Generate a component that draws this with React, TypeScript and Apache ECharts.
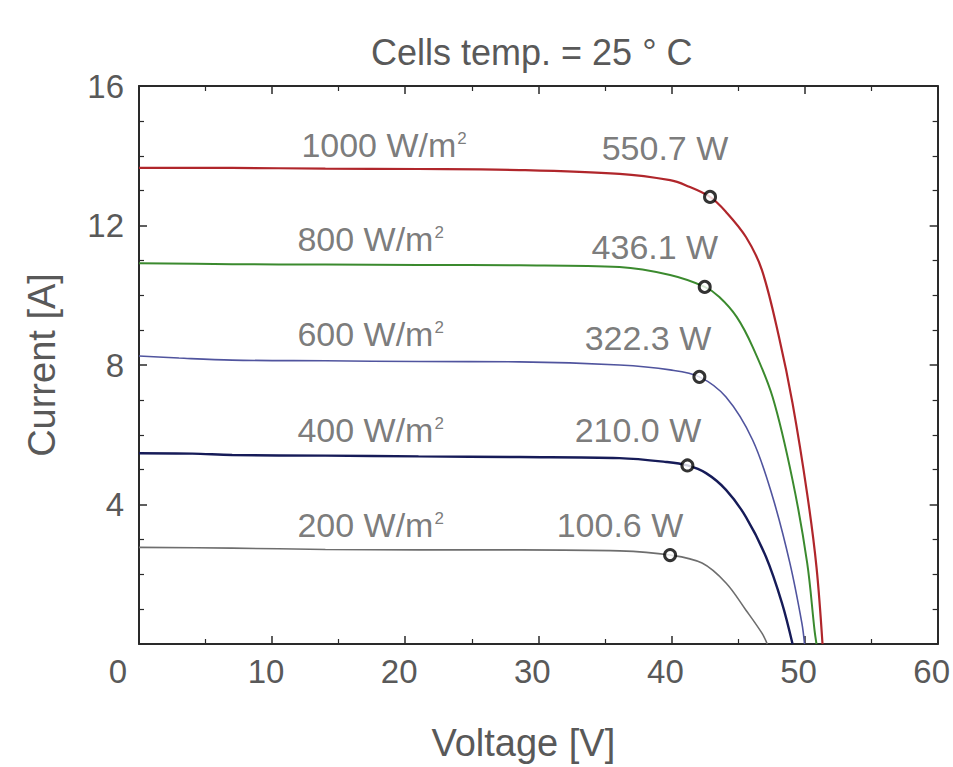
import { useEffect, useRef } from 'react';
import * as echarts from 'echarts';

// ---- data ----
const irradianceValues = ['1000', '800', '600', '400', '200'];
const lineColors = ['#b0262b', '#3b8a2e', '#50549e', '#161b58', '#6e6e6e'];
const lineWidths = [2.2, 2, 1.6, 2.4, 1.6];

const v1000 = [0, 7, 14, 21, 28.6, 36.1, 39.9, 41.1, 42.9, 44.1, 45.6, 46.8, 48.1, 49.1, 50.2, 50.9, 51.35];
const i1000 = [13.65, 13.65, 13.63, 13.62, 13.59, 13.48, 13.3, 13.15, 12.82, 12.39, 11.67, 10.72, 8.77, 6.9, 4.3, 2.2, 0];

const v800 = [0, 7, 14, 21, 28.6, 36.1, 39.9, 42.5, 43.6, 44.9, 46.1, 47.6, 49.1, 50.2, 50.75, 50.9];
const i800 = [10.92, 10.89, 10.88, 10.87, 10.86, 10.81, 10.58, 10.24, 9.95, 9.38, 8.52, 7.08, 4.7, 2.32, 0.4, 0];

const v600 = [0, 3, 7, 14, 21, 28.6, 36.1, 39.9, 42.1, 44.1, 46.1, 47.6, 48.9, 49.8, 50.0];
const i600 = [8.26, 8.2, 8.14, 8.12, 8.1, 8.09, 8.0, 7.86, 7.66, 7.08, 5.85, 4.22, 2.32, 0.6, 0];

const v400 = [0, 4, 7, 14, 21, 28.6, 36.1, 39.6, 41.2, 42.6, 44.1, 45.6, 47.1, 48.3, 49.1];
const i400 = [5.47, 5.46, 5.42, 5.4, 5.38, 5.36, 5.33, 5.22, 5.12, 4.9, 4.42, 3.64, 2.5, 1.18, 0];

const v200 = [0, 7, 14, 21, 28.6, 36.1, 39.9, 42.3, 44.1, 45.6, 46.8, 47.2];
const i200 = [2.77, 2.75, 2.71, 2.7, 2.7, 2.67, 2.55, 2.32, 1.75, 0.97, 0.31, 0];

const curveVoltages = [v1000, v800, v600, v400, v200];
const curveCurrents = [i1000, i800, i600, i400, i200];

const mppVoltage = [42.9, 42.5, 42.1, 41.2, 39.9];
const mppCurrent = [12.82, 10.24, 7.66, 5.12, 2.55];
const mppPowerLabels = ['550.7 W', '436.1 W', '322.3 W', '210.0 W', '100.6 W'];

const irrLabelV = [12.2, 11.9, 11.9, 11.9, 11.9];
const irrLabelI = [14.3, 11.62, 8.9, 6.14, 3.41];
const powLabelV = [34.76, 34.0, 33.48, 32.73, 31.38];
const powLabelI = [14.22, 11.38, 8.77, 6.14, 3.41];

const titleText = 'Cells temp. = 25 ° C';
const xName = 'Voltage [V]';
const yName = 'Current [A]';

const FONT = "'Liberation Sans', Arial, sans-serif";
const TEXT = '#595959';
const AXIS = '#2a2a2a';

export default function App() {
  const ref = useRef<HTMLDivElement>(null);

  useEffect(() => {
    if (!ref.current) return;
    const chart = echarts.init(ref.current, undefined, { renderer: 'svg' });

    const tickCommon = {
      axisLine: { show: true, onZero: false, lineStyle: { color: AXIS, width: 2 } },
      axisTick: { show: true, inside: true, length: 8, lineStyle: { color: AXIS, width: 1.5 } },
      minorTick: { show: true, length: 5, lineStyle: { color: AXIS, width: 1.2 } },
      splitLine: { show: false },
      minorSplitLine: { show: false },
    };

    const lineSeries = curveVoltages.map((vs, k) => ({
      type: 'line',
      name: irradianceValues[k] + ' W/m²',
      data: vs.map((v, j) => [v, curveCurrents[k][j]]),
      smooth: 0.35,
      showSymbol: false,
      lineStyle: { color: lineColors[k], width: lineWidths[k] },
      z: 2,
      silent: true,
    }));

    const baseLabel = {
      show: true,
      position: 'right',
      distance: 0,
      fontFamily: FONT,
      fontSize: 34,
      color: TEXT,
    };

    const option = {
      animation: false,
      backgroundColor: '#ffffff',
      title: {
        text: titleText,
        left: 366,
        top: 29,
        textStyle: { fontFamily: FONT, fontSize: 36, fontWeight: 'normal', color: TEXT },
      },
      grid: { left: 139, right: 15, top: 86, bottom: 123 },
      xAxis: [
        {
          type: 'value',
          min: 0,
          max: 60,
          interval: 10,
          position: 'bottom',
          ...tickCommon,
          minorTick: { ...tickCommon.minorTick, splitNumber: 2 },
          axisLabel: {
            show: true,
            margin: 11,
            padding: [0, 12, 0, 0],
            fontFamily: FONT,
            fontSize: 33,
            color: TEXT,
            formatter: (v: number) => (v === 0 ? '{z|0}' : String(v)),
            rich: { z: { padding: [0, 30, 0, 0], fontFamily: FONT, fontSize: 33, color: TEXT } },
          },
          name: xName,
          nameLocation: 'middle',
          nameGap: 80,
          nameTextStyle: { fontFamily: FONT, fontSize: 38, color: TEXT, padding: [0, 30, 0, 0] },
        },
        {
          type: 'value',
          min: 0,
          max: 60,
          interval: 10,
          position: 'top',
          ...tickCommon,
          minorTick: { ...tickCommon.minorTick, splitNumber: 2 },
          axisLabel: { show: false },
        },
      ],
      yAxis: [
        {
          type: 'value',
          min: 0,
          max: 16,
          interval: 4,
          position: 'left',
          ...tickCommon,
          minorTick: { ...tickCommon.minorTick, splitNumber: 4 },
          axisLabel: {
            show: true,
            margin: 15,
            padding: [0, 0, 10, 0],
            fontFamily: FONT,
            fontSize: 33,
            color: TEXT,
            formatter: (v: number) => (v === 0 ? '' : String(v)),
          },
          name: yName,
          nameLocation: 'middle',
          nameGap: 78,
          nameTextStyle: { fontFamily: FONT, fontSize: 38, color: TEXT },
        },
        {
          type: 'value',
          min: 0,
          max: 16,
          interval: 4,
          position: 'right',
          ...tickCommon,
          minorTick: { ...tickCommon.minorTick, splitNumber: 4 },
          axisLabel: { show: false },
        },
      ],
      series: [
        ...lineSeries,
        {
          type: 'line',
          name: 'frame',
          xAxisIndex: 1,
          yAxisIndex: 1,
          data: [],
          silent: true,
        },
        {
          type: 'scatter',
          name: 'MPP',
          data: mppVoltage.map((v, k) => [v, mppCurrent[k]]),
          symbol: 'circle',
          symbolSize: 11,
          itemStyle: { color: '#ffffff', borderColor: '#000000', borderWidth: 3 },
          z: 5,
          silent: true,
        },
        {
          type: 'scatter',
          name: 'irradiance labels',
          data: irrLabelV.map((v, k) => ({ value: [v, irrLabelI[k]], name: irradianceValues[k] })),
          symbolSize: 0,
          label: {
            ...baseLabel,
            formatter: (p: any) => '{n|' + p.name + ' W/m}{s|2}',
            rich: {
              n: { fontFamily: FONT, fontSize: 34, color: TEXT },
              s: { fontFamily: FONT, fontSize: 17, color: TEXT, verticalAlign: 'top', padding: [2, 0, 0, 1] },
            },
          },
          z: 4,
          silent: true,
        },
        {
          type: 'scatter',
          name: 'power labels',
          data: powLabelV.map((v, k) => ({ value: [v, powLabelI[k]], name: mppPowerLabels[k] })),
          symbolSize: 0,
          label: { ...baseLabel, formatter: (p: any) => p.name },
          z: 4,
          silent: true,
        },
      ],
    };

    chart.setOption(option as any);
    return () => chart.dispose();
  }, []);

  return (
    <div
      ref={ref}
      style={{ position: 'fixed', left: 0, top: 0, width: 953, height: 767, background: '#fff' }}
    />
  );
}
